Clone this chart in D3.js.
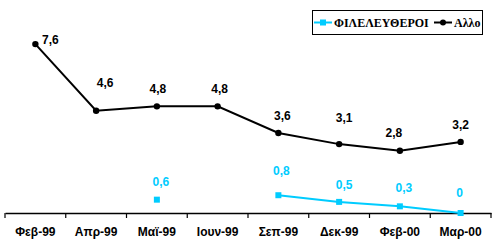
<!DOCTYPE html>
<html>
<head>
<meta charset="utf-8">
<script src="https://cdn.jsdelivr.net/npm/d3@7"></script>
<style>
  body { margin: 0; background: #fff; }
  svg { display: block; }
</style>
</head>
<body>
<div id="chart"></div>
<script>
// Data
const months = ["Φεβ-99", "Απρ-99", "Μαϊ-99", "Ιουν-99", "Σεπ-99", "Δεκ-99", "Φεβ-00", "Μαρ-00"];
const filValues = [null, null, 0.6, null, 0.8, 0.5, 0.3, 0];
const allValues = [7.6, 4.6, 4.8, 4.8, 3.6, 3.1, 2.8, 3.2];
const seriesNames = ["ΦΙΛΕΛΕΥΘΕΡΟΙ", "Αλλο"];

// hand-placed label nudges (like the original chart)
const allNudge = [[15, -4], [9, -28], [1, -18], [2, -18], [4, -17], [5, -26], [-6, -18], [0, -17]];
const filNudge = [null, null, [4, -18], null, [3, -24], [5, -17], [4, -19], [-1, -20]];

const width = 496, height = 246;
const blue = "#00ccff";

const svg = d3.select("#chart")
  .append("svg")
  .attr("width", width)
  .attr("height", height);

const x = d3.scaleBand()
  .domain(months)
  .range([5, 491]);

const y = d3.scaleLinear()
  .domain([0, 9])
  .range([213, 13]);

const cx = d => x(d) + x.bandwidth() / 2;
const fmt = v => String(v).replace(".", ",");

// x axis
const axis = svg.append("g")
  .attr("transform", `translate(0,${y(0)})`)
  .call(d3.axisBottom(x).tickSize(0).tickPadding(14));
axis.select(".domain").attr("stroke", "#000").attr("stroke-width", 1.5);
axis.selectAll("text")
  .attr("font-family", "Liberation Sans, Arial, sans-serif")
  .attr("font-size", 12)
  .attr("font-weight", "bold")
  .attr("fill", "#000");

// ticks between categories
axis.selectAll(".sep")
  .data(months.concat(["end"]))
  .join("line")
  .attr("x1", (d, i) => x.range()[0] + i * x.step())
  .attr("x2", (d, i) => x.range()[0] + i * x.step())
  .attr("y1", 0)
  .attr("y2", 5)
  .attr("stroke", "#000")
  .attr("stroke-width", 1.2);

// Αλλο line
const allData = months.map((m, i) => ({ m, v: allValues[i], n: allNudge[i] }));
svg.append("path")
  .datum(allData)
  .attr("fill", "none")
  .attr("stroke", "#000")
  .attr("stroke-width", 2)
  .attr("d", d3.line().x(d => cx(d.m)).y(d => y(d.v)));

svg.selectAll(".allDot")
  .data(allData)
  .join("circle")
  .attr("cx", d => cx(d.m))
  .attr("cy", d => y(d.v))
  .attr("r", 3.2)
  .attr("fill", "#000");

svg.selectAll(".allLbl")
  .data(allData)
  .join("text")
  .attr("x", d => cx(d.m) + d.n[0])
  .attr("y", d => y(d.v) + d.n[1])
  .attr("dy", "0.35em")
  .attr("text-anchor", "middle")
  .attr("font-family", "Liberation Sans, Arial, sans-serif")
  .attr("font-size", 12)
  .attr("font-weight", "bold")
  .attr("fill", "#000")
  .text(d => fmt(d.v));

// ΦΙΛΕΛΕΥΘΕΡΟΙ line
const filData = months.map((m, i) => ({ m, v: filValues[i], n: filNudge[i] }));
const filPts = filData.filter(d => d.v !== null);

svg.append("path")
  .datum(filData)
  .attr("fill", "none")
  .attr("stroke", blue)
  .attr("stroke-width", 2)
  .attr("d", d3.line().defined(d => d.v !== null).x(d => cx(d.m)).y(d => y(d.v)));

svg.selectAll(".filDot")
  .data(filPts)
  .join("rect")
  .attr("x", d => cx(d.m) - 3)
  .attr("y", d => y(d.v) - 3)
  .attr("width", 6)
  .attr("height", 6)
  .attr("fill", blue);

svg.selectAll(".filLbl")
  .data(filPts)
  .join("text")
  .attr("x", d => cx(d.m) + d.n[0])
  .attr("y", d => y(d.v) + d.n[1])
  .attr("dy", "0.35em")
  .attr("text-anchor", "middle")
  .attr("font-family", "Liberation Sans, Arial, sans-serif")
  .attr("font-size", 12)
  .attr("font-weight", "bold")
  .attr("fill", blue)
  .text(d => fmt(d.v));

// Legend
const legend = svg.append("g").attr("transform", "translate(312,10)");
legend.append("rect")
  .attr("x", 0.5).attr("y", 0.5)
  .attr("width", 170).attr("height", 24)
  .attr("fill", "#fff")
  .attr("stroke", "#000");

const legItems = [
  { name: seriesNames[0], color: blue, shape: "square", x: 2, tx: 22 },
  { name: seriesNames[1], color: "#000", shape: "circle", x: 122, tx: 142 }
];
legItems.forEach(it => {
  const g = legend.append("g");
  g.append("line")
    .attr("x1", it.x).attr("x2", it.x + 18)
    .attr("y1", 12.5).attr("y2", 12.5)
    .attr("stroke", it.color).attr("stroke-width", 2);
  if (it.shape === "square") {
    g.append("rect").attr("x", it.x + 6).attr("y", 9.5).attr("width", 6).attr("height", 6).attr("fill", it.color);
  } else {
    g.append("circle").attr("cx", it.x + 9).attr("cy", 12.5).attr("r", 3).attr("fill", it.color);
  }
  g.append("text")
    .attr("x", it.tx).attr("y", 12.5)
    .attr("dy", "0.35em")
    .attr("font-family", "Liberation Serif, Times New Roman, serif")
    .attr("font-size", 12)
    .attr("font-weight", "bold")
    .text(it.name);
});
</script>
</body>
</html>
